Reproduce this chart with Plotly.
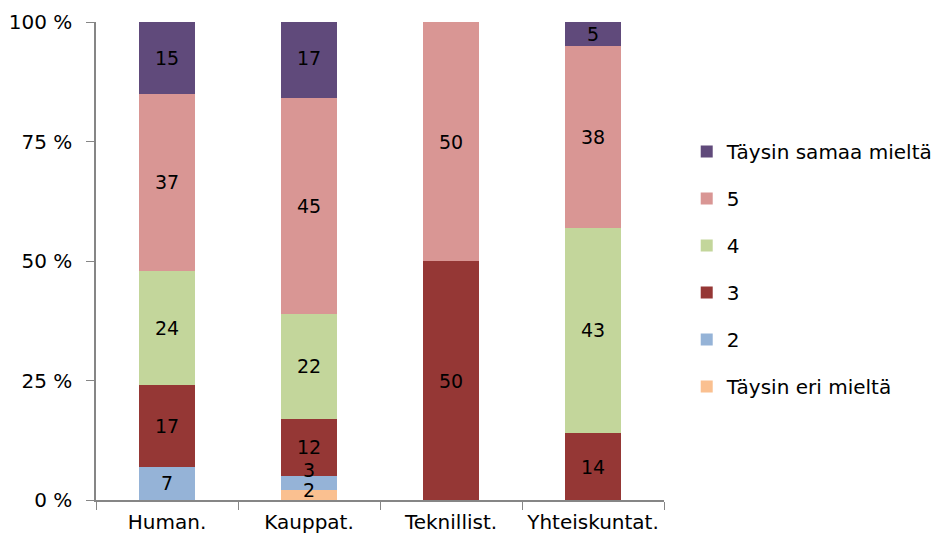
import plotly.graph_objects as go

categories = ["Human.", "Kauppat.", "Teknillist.", "Yhteiskuntat."]

series_names = ["Täysin eri mieltä", "2", "3", "4", "5", "Täysin samaa mieltä"]
val_eri = [0, 2, 0, 0]
val_2 = [7, 3, 0, 0]
val_3 = [17, 12, 50, 14]
val_4 = [24, 22, 0, 43]
val_5 = [37, 45, 50, 38]
val_samaa = [15, 17, 0, 5]
series_values = [val_eri, val_2, val_3, val_4, val_5, val_samaa]
colors = ["#FAC090", "#95B3D7", "#953735", "#C3D69B", "#D99694", "#604A7B"]

ytick_vals = [0, 25, 50, 75, 100]
ytick_text = ["0 %", "25 %", "50 %", "75 %", "100 %"]

FONT = "DejaVu Sans"
FS = 20
LFS = 19  # data label font size
SMALL = 5  # segments below this get a label placed at their top edge

fig = go.Figure()
annotations = []
cum = [0] * len(categories)
for i, (name, vals, col) in enumerate(zip(series_names, series_values, colors)):
    texts = []
    for j, v in enumerate(vals):
        top = cum[j] + v
        if v and v < SMALL:
            texts.append("")
            annotations.append(dict(
                x=categories[j], y=top, xref="x", yref="y", text=str(v),
                showarrow=False, yanchor="middle", yshift=6 if cum[j] > 0 else 0,
                font=dict(family=FONT, size=LFS, color="black"),
            ))
        else:
            texts.append(str(v) if v else "")
        cum[j] = top
    fig.add_trace(go.Bar(
        x=categories, y=vals, name=name, legendgroup=name,
        legendrank=100 - i,
        marker=dict(color=col, line=dict(width=0)),
        text=texts,
        textposition="inside", insidetextanchor="middle", textangle=0,
        textfont=dict(family=FONT, size=LFS, color="black"),
        hoverinfo="x+y+name",
    ))

fig.update_layout(
    barmode="stack",
    bargap=0.6,
    width=934, height=537,
    margin=dict(l=88, r=278, t=14, b=45, autoexpand=False),
    paper_bgcolor="white", plot_bgcolor="white",
    font=dict(family=FONT, size=FS, color="black"),
    uniformtext=dict(minsize=LFS, mode="show"),
    annotations=annotations,
    legend=dict(
        x=1.04, xanchor="left", y=0.77, yanchor="top",
        traceorder="grouped", tracegroupgap=18,
        font=dict(family=FONT, size=FS, color="black"),
        itemwidth=30,
    ),
    showlegend=True,
)
fig.update_xaxes(
    showline=True, linecolor="#868686", linewidth=1.5,
    ticks="outside", tickson="boundaries", ticklen=8, tickcolor="#868686",
    showgrid=False, tickangle=0, automargin=False, ticklabelstandoff=3,
    tickfont=dict(family=FONT, size=FS),
)
fig.update_yaxes(
    range=[0, 100], tickvals=ytick_vals, ticktext=ytick_text,
    showline=True, linecolor="#868686", linewidth=1.5,
    ticks="outside", ticklen=8, tickcolor="#868686",
    showgrid=False, zeroline=False, ticklabelstandoff=10, automargin=False,
    tickfont=dict(family=FONT, size=FS),
)

fig.write_html("out.html")
